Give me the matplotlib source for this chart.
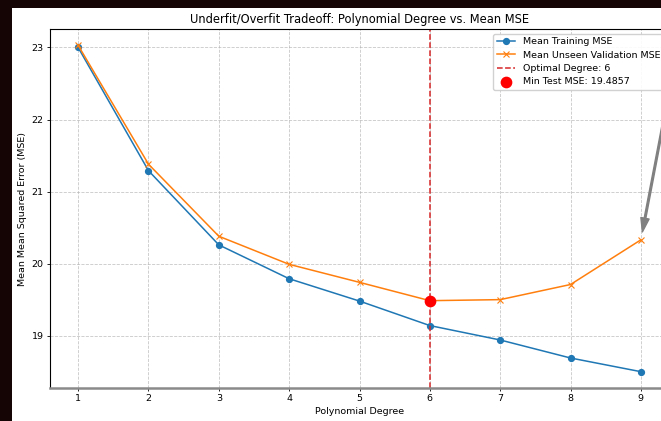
import numpy as np
import matplotlib
matplotlib.use("Agg")
from matplotlib import pyplot as plt
from matplotlib.patches import Rectangle

degrees = [1, 2, 3, 4, 5, 6, 7, 8, 9]
train_mse = [23.00, 21.29, 20.26, 19.79, 19.48, 19.14, 18.94, 18.69, 18.50]
val_mse = [23.03, 21.38, 20.38, 19.99, 19.74, 19.4857, 19.50, 19.71, 20.33]
best_degree = 6
best_mse = 19.4857

plt.rcParams["font.size"] = 6.8

fig = plt.figure(figsize=(6.61, 4.21), dpi=100, facecolor="white")
# dark screenshot border on the left and top
border = "#150505"
fig.patches.append(Rectangle((0, 0), 12 / 661, 1, transform=fig.transFigure,
                             facecolor=border, edgecolor="none", zorder=-10))
fig.patches.append(Rectangle((0, 1 - 8 / 421), 1, 8 / 421,
                             transform=fig.transFigure, facecolor=border,
                             edgecolor="none", zorder=-10))

ax = fig.add_axes([50 / 661, 1 - 388 / 421, 619 / 661, 359 / 421])

ax.plot(degrees, train_mse, "o-", color="#1f77b4", lw=1.1, ms=4.2,
        label="Mean Training MSE")
ax.plot(degrees, val_mse, "x-", color="#ff7f0e", lw=1.1, ms=4.2, mew=0.8,
        label="Mean Unseen Validation MSE")
ax.axvline(best_degree, color="#d62728", ls="--", lw=1.1,
           label="Optimal Degree: {}".format(best_degree))
ax.scatter([best_degree], [best_mse], s=55, color="red", zorder=5,
           label="Min Test MSE: {}".format(best_mse))

# annotation text sits outside the visible crop, only the arrow shows
ax.annotate("Overfitting", xy=(9, val_mse[-1]), xytext=(9.72, 24.0),
            ha="left", va="bottom", fontsize=8, annotation_clip=False,
            arrowprops=dict(facecolor="gray", edgecolor="gray", shrink=0.03,
                            width=1.2, headwidth=6, headlength=10))

ax.set_title("Underfit/Overfit Tradeoff: Polynomial Degree vs. Mean MSE",
             fontsize=8.3, pad=4)
ax.set_xlabel("Polynomial Degree", labelpad=3)
ax.set_ylabel("Mean Mean Squared Error (MSE)", labelpad=3)
ax.set_xticks(degrees)
ax.set_yticks([19, 20, 21, 22, 23])
ax.grid(True, linestyle="--", alpha=0.7, lw=0.6)
ax.tick_params(length=2.5, width=0.6, pad=2)
for s in ["left", "top", "right"]:
    ax.spines[s].set_linewidth(0.8)
ax.spines["bottom"].set_color("#8a8a8a")
ax.spines["bottom"].set_linewidth(1.8)

ax.legend(loc="upper right", fontsize=6.8, borderpad=0.4, labelspacing=0.45,
          handlelength=2.0, framealpha=0.9)

fig.savefig("out.png", dpi=100)
